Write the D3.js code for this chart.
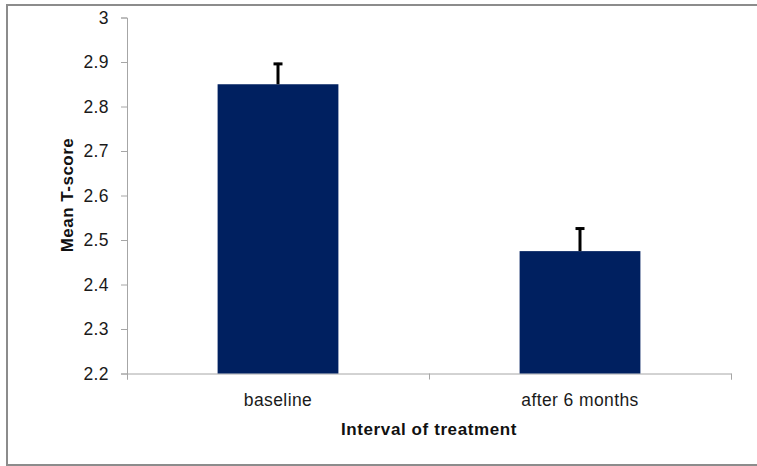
<!DOCTYPE html>
<html>
<head>
<meta charset="utf-8">
<script src="https://cdn.jsdelivr.net/npm/d3@7"></script>
<style>
  body { margin: 0; background: #fff; }
  svg { display: block; }
</style>
</head>
<body>
<svg id="chart" width="757" height="466"></svg>
<script>
const categories = ['baseline', 'after 6 months']
const means = [2.85, 2.475]
const errors = [0.048, 0.053]
const yTicks = [2.2, 2.3, 2.4, 2.5, 2.6, 2.7, 2.8, 2.9, 3]

const width = 757
const height = 466
const margin = { top: 17.5, right: 26, bottom: 92.5, left: 127 }
const font = '"Liberation Sans", Arial, sans-serif'

const svg = d3.select('#chart')

// chart area border
svg.append('rect')
  .attr('x', 7).attr('y', 5)
  .attr('width', width).attr('height', 460)
  .attr('fill', '#fff')
  .attr('stroke', '#8c8c8c')
  .attr('stroke-width', 2)

const x = d3.scaleBand()
  .domain(categories)
  .range([margin.left, width - margin.right])
  .paddingInner(0.6)
  .paddingOuter(0.3)

const y = d3.scaleLinear()
  .domain([2.2, 3])
  .range([height - margin.bottom, margin.top])

// y axis
const yAxis = d3.axisLeft(y)
  .tickValues(yTicks)
  .tickFormat(d3.format('~g'))
  .tickSize(6)
  .tickPadding(12)
const yg = svg.append('g')
  .attr('transform', `translate(${margin.left},0)`)
  .call(yAxis)
yg.select('.domain').attr('stroke', '#a6a6a6')
yg.selectAll('.tick line').attr('stroke', '#a6a6a6')
yg.selectAll('text')
  .attr('font-family', font)
  .attr('font-size', 17.5)
  .attr('letter-spacing', 0.4)
  .attr('fill', '#1a1a1a')

// x axis: tick marks at category boundaries
const xEdges = d3.scaleLinear()
  .domain([0, categories.length])
  .range([margin.left, width - margin.right])
const xg = svg.append('g')
  .attr('transform', `translate(0,${y(2.2)})`)
  .call(d3.axisBottom(xEdges).ticks(categories.length).tickSize(6).tickSizeOuter(6).tickFormat(''))
xg.select('.domain').attr('stroke', '#a6a6a6')
xg.selectAll('.tick line').attr('stroke', '#a6a6a6')

// x axis: category labels
const xl = svg.append('g')
  .attr('transform', `translate(0,${y(2.2)})`)
  .call(d3.axisBottom(x).tickSize(0).tickPadding(20))
xl.select('.domain').remove()
xl.selectAll('text')
  .attr('font-family', font)
  .attr('font-size', 17.5)
  .attr('letter-spacing', 0.4)
  .attr('fill', '#1a1a1a')

// bars
svg.append('g')
  .selectAll('rect')
  .data(means)
  .join('rect')
  .attr('x', (d, i) => x(categories[i]))
  .attr('y', d => y(d))
  .attr('width', x.bandwidth())
  .attr('height', d => y(2.2) - y(d))
  .attr('fill', '#002060')

// error bars (upper only)
const eg = svg.append('g').attr('stroke', '#000').attr('stroke-width', 3)
means.forEach((m, i) => {
  const cx = x(categories[i]) + x.bandwidth() / 2
  eg.append('line')
    .attr('x1', cx).attr('x2', cx)
    .attr('y1', y(m)).attr('y2', y(m + errors[i]))
  eg.append('line')
    .attr('x1', cx - 4.5).attr('x2', cx + 4.5)
    .attr('y1', y(m + errors[i]) + 1).attr('y2', y(m + errors[i]) + 1)
})

// axis titles
svg.append('text')
  .attr('x', (margin.left + width - margin.right) / 2)
  .attr('y', 435)
  .attr('text-anchor', 'middle')
  .attr('font-family', font)
  .attr('font-size', 17)
  .attr('letter-spacing', 0.6)
  .attr('font-weight', 'bold')
  .attr('fill', '#111')
  .text('Interval of treatment')

svg.append('text')
  .attr('transform', 'translate(73,195) rotate(-90)')
  .attr('text-anchor', 'middle')
  .attr('font-family', font)
  .attr('font-size', 17)
  .attr('letter-spacing', 0.5)
  .attr('font-weight', 'bold')
  .attr('fill', '#111')
  .text('Mean T-score')
</script>
</body>
</html>
